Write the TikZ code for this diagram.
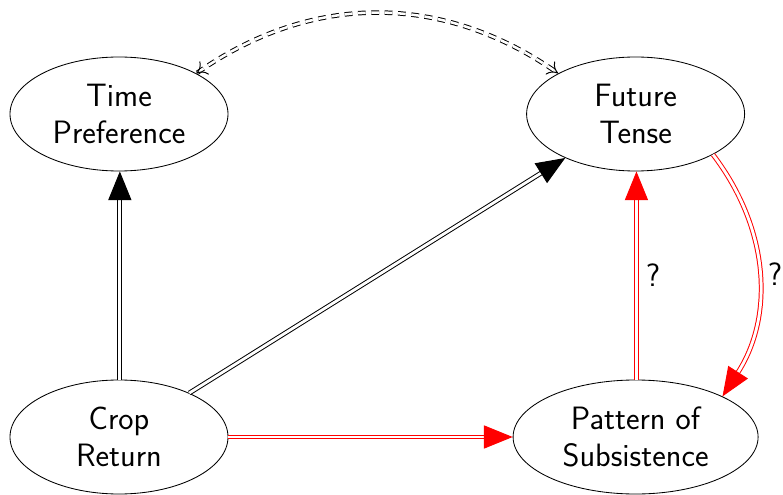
\documentclass[tikz,border=0pt]{standalone}
\usepackage{amsmath}
\usepackage{xcolor}
\usetikzlibrary{shapes.geometric,arrows.meta,positioning}

\begin{document}
\begin{tikzpicture}[
  font=\fontsize{23}{26}\selectfont\sffamily,
  factor/.style={draw, line width=0.6pt, ellipse, align=center, inner sep=0pt, minimum width=5.45cm, minimum height=2.85cm},
  link/.style={double, double distance=2pt, line width=0.7pt, -{Triangle[length=0.72cm,width=0.58cm]}},
  redlink/.style={link, draw=red, color=red},
  maybe/.style={double, double distance=1.8pt, line width=0.7pt, dash pattern=on 5.5pt off 4pt, {To[length=2.5mm,width=4mm]}-{To[length=2.5mm,width=4mm]}}
]

\useasboundingbox (0,0) rectangle (19.575,12.35);

% Factors
\node[factor] (time) at (2.975,9.5) {Time\\Preference};
\node[factor] (future) at (15.89,9.5) {Future\\Tense};
\node[factor] (crop) at (2.975,1.425) {Crop\\Return};
\node[factor, minimum width=6.125cm] (pattern) at (15.89,1.425) {Pattern of\\Subsistence};

% Links
\draw[link] ([xshift=0.6pt]crop.north) -- ([xshift=0.6pt]time.south);
\draw[link] (crop) -- (future);
\draw[redlink] (crop) -- (pattern);
\draw[redlink] ([xshift=0.6pt]pattern.north) -- node[right=3pt, text=black] {?} ([xshift=0.6pt]future.south);
\draw[redlink] (future.south east) to[bend left=35] node[right=3pt, text=black] {?} (pattern.north east);

% Dashed link
\draw[maybe] (time.north east) to[bend left=35] (future.north west);

\end{tikzpicture}
\end{document}
